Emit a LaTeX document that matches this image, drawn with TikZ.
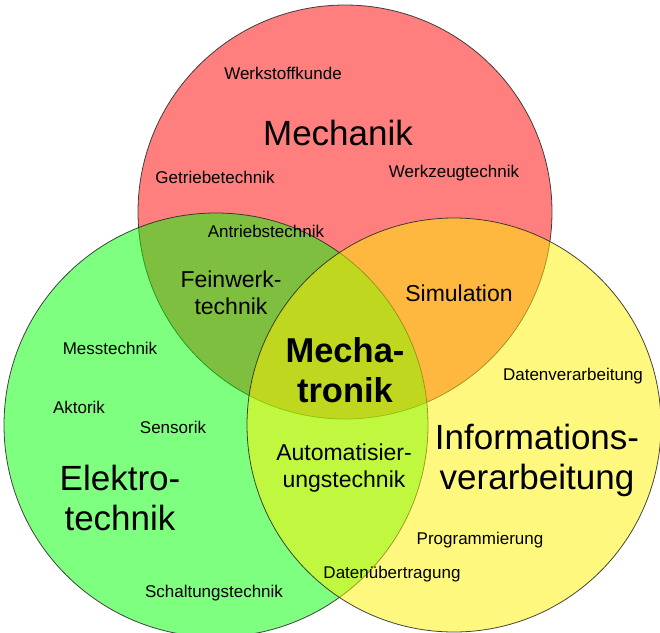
\documentclass[tikz,border=0pt]{standalone}
\usepackage{fontspec}
\setmainfont{Liberation Sans}
\begin{document}
\begin{tikzpicture}[x=1pt,y=-1pt,
  disc/.style={fill opacity=0.5, draw=black!85, draw opacity=0.85, line width=0.8pt},
  small/.style={font=\fontsize{17}{19}\selectfont, inner sep=0pt, text=black},
  mid/.style={font=\fontsize{23}{27}\selectfont, align=center, inner sep=0pt, text=black},
  big/.style={font=\fontsize{35}{40}\selectfont, align=center, inner sep=0pt, text=black},
  core/.style={font=\fontsize{34.5}{40}\selectfont\bfseries, align=center, inner sep=0pt},
]
\useasboundingbox (0,0) rectangle (660,632);
\fill[white] (0,0) rectangle (660,632);
\begin{scope}
\clip (0,0) rectangle (660,632);
% the three fields, blended in drawing order
\draw[disc, fill=red]    (345,212) circle[radius=207];
\draw[disc, fill=green]  (216,425) circle[radius=212];
\draw[disc, fill=yellow] (454,425) circle[radius=207];
\end{scope}

% Mechanik
\node[small] (wsk) at (283,73)  {Werkstoffkunde};
\node[big]   (mech) at (338,133) {Mechanik};
\node[small] (get) at (215,177) {Getriebetechnik};
\node[small] (wzt) at (454,173) {Werkzeugtechnik};
\node[small] (ant) at (266,231) {Antriebstechnik};

% overlaps
\node[mid] (fein) at (231,293) {Feinwerk-\\technik};
\node[mid] (sim)  at (459,293) {Simulation};
\node[core] (mt)  at (345,370) {Mecha-\\tronik};
\node[mid] (aut)  at (344,468) {Automatisier-\\ungstechnik};

% Elektrotechnik
\node[small] (mess) at (110,348) {Messtechnik};
\node[small] (akt)  at (79,407)  {Aktorik};
\node[small] (sen)  at (173,427) {Sensorik};
\node[big]   (et)   at (120,498) {Elektro-\\technik};
\node[small] (sch)  at (214,593) {Schaltungstechnik};

% Informationsverarbeitung
\node[small] (dv)  at (573,376) {Datenverarbeitung};
\node[big]   (iv)  at (537,460) {Informations-\\verarbeitung};
\node[small] (prog) at (480,540) {Programmierung};
\node[small] (dat) at (392,574) {Datenübertragung};
\end{tikzpicture}
\end{document}
